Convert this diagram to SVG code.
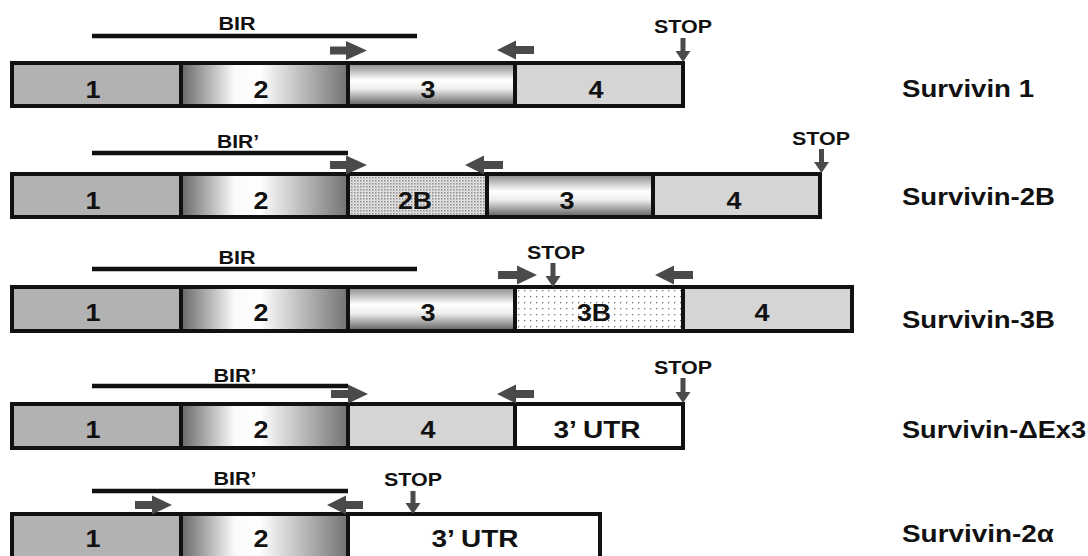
<svg xmlns="http://www.w3.org/2000/svg" width="1088" height="556" viewBox="0 0 1088 556">
<style>
.box{stroke:#111;stroke-width:4}
.e1{fill:#b2b2b2}
.e2{fill:url(#g2)}
.e3{fill:url(#g3)}
.e4{fill:#d5d5d5}
.e2b{fill:url(#p2b)}
.e3b{fill:url(#p3b)}
.utr{fill:#fff}
.t{font-family:"Liberation Sans",Arial,sans-serif;font-weight:bold;fill:#111}
.num{font-size:24px;text-anchor:middle}
.lab{font-size:18px;text-anchor:middle}
.name{font-size:23px}
.bir{stroke:#111;stroke-width:4.5;fill:none}
.pr{fill:#4a4a4a}
</style>
<defs>
<linearGradient id="g2" x1="0" y1="0" x2="1" y2="0">
<stop offset="0" stop-color="#666666"/>
<stop offset="0.32" stop-color="#fafafa"/>
<stop offset="0.47" stop-color="#ffffff"/>
<stop offset="1" stop-color="#727272"/>
</linearGradient>
<linearGradient id="g3" x1="0" y1="0" x2="0" y2="1">
<stop offset="0" stop-color="#858585"/>
<stop offset="0.4" stop-color="#ffffff"/>
<stop offset="0.6" stop-color="#eeeeee"/>
<stop offset="1" stop-color="#5c5c5c"/>
</linearGradient>
<pattern id="p2b" width="3" height="3" patternUnits="userSpaceOnUse">
<rect width="3" height="3" fill="#e8e8e8"/>
<rect x="0" y="0" width="1.5" height="1.5" fill="#888888"/>
<rect x="1.5" y="1.5" width="1" height="1" fill="#a8a8a8"/>
</pattern>
<pattern id="p3b" width="6" height="6" patternUnits="userSpaceOnUse">
<rect width="6" height="6" fill="#ffffff"/>
<rect x="2" y="2" width="1.3" height="1.3" fill="#777777"/>
</pattern>
</defs>

<g id="survivin-1">
<rect class="box e1" x="12" y="63" width="169" height="43"/>
<rect class="box e2" x="181" y="63" width="167" height="43"/>
<rect class="box e3" x="348" y="63" width="167" height="43"/>
<rect class="box e4" x="515" y="63" width="168" height="43"/>
<text class="t num" x="93" y="98" textLength="15" lengthAdjust="spacingAndGlyphs">1</text>
<text class="t num" x="261" y="98" textLength="15" lengthAdjust="spacingAndGlyphs">2</text>
<text class="t num" x="428" y="98" textLength="15" lengthAdjust="spacingAndGlyphs">3</text>
<text class="t num" x="596" y="98" textLength="15" lengthAdjust="spacingAndGlyphs">4</text>
<line class="bir" x1="92" y1="36" x2="417" y2="36"/>
<text class="t lab" x="237" y="30" textLength="37" lengthAdjust="spacingAndGlyphs">BIR</text>
<text class="t lab" x="683" y="33" textLength="58" lengthAdjust="spacingAndGlyphs">STOP</text>
<text class="t name" x="902" y="97" textLength="132" lengthAdjust="spacingAndGlyphs">Survivin 1</text>
</g>

<g id="survivin-2B">
<rect class="box e1" x="12" y="174" width="169" height="43"/>
<rect class="box e2" x="181" y="174" width="167" height="43"/>
<rect class="box e2b" x="348" y="174" width="139" height="43"/>
<rect class="box e3" x="487" y="174" width="166" height="43"/>
<rect class="box e4" x="653" y="174" width="167" height="43"/>
<text class="t num" x="93" y="209" textLength="15" lengthAdjust="spacingAndGlyphs">1</text>
<text class="t num" x="261" y="209" textLength="15" lengthAdjust="spacingAndGlyphs">2</text>
<text class="t num" x="415" y="209" textLength="34" lengthAdjust="spacingAndGlyphs">2B</text>
<text class="t num" x="567" y="209" textLength="15" lengthAdjust="spacingAndGlyphs">3</text>
<text class="t num" x="734" y="209" textLength="15" lengthAdjust="spacingAndGlyphs">4</text>
<line class="bir" x1="92" y1="153" x2="348" y2="153"/>
<text class="t lab" x="238" y="148" textLength="42" lengthAdjust="spacingAndGlyphs">BIR’</text>
<text class="t lab" x="821" y="145" textLength="58" lengthAdjust="spacingAndGlyphs">STOP</text>
<text class="t name" x="902" y="205" textLength="153" lengthAdjust="spacingAndGlyphs">Survivin-2B</text>
</g>

<g id="survivin-3B">
<rect class="box e1" x="12" y="287" width="169" height="44"/>
<rect class="box e2" x="181" y="287" width="167" height="44"/>
<rect class="box e3" x="348" y="287" width="167" height="44"/>
<rect class="box e3b" x="515" y="287" width="168" height="44"/>
<rect class="box e4" x="683" y="287" width="169" height="44"/>
<text class="t num" x="93" y="321" textLength="15" lengthAdjust="spacingAndGlyphs">1</text>
<text class="t num" x="261" y="321" textLength="15" lengthAdjust="spacingAndGlyphs">2</text>
<text class="t num" x="428" y="321" textLength="15" lengthAdjust="spacingAndGlyphs">3</text>
<text class="t num" x="594" y="321" textLength="34" lengthAdjust="spacingAndGlyphs">3B</text>
<text class="t num" x="762" y="321" textLength="15" lengthAdjust="spacingAndGlyphs">4</text>
<line class="bir" x1="92" y1="269" x2="417" y2="269"/>
<text class="t lab" x="237" y="264" textLength="37" lengthAdjust="spacingAndGlyphs">BIR</text>
<text class="t lab" x="556" y="259" textLength="58" lengthAdjust="spacingAndGlyphs">STOP</text>
<text class="t name" x="902" y="328" textLength="153" lengthAdjust="spacingAndGlyphs">Survivin-3B</text>
</g>

<g id="survivin-dEx3">
<rect class="box e1" x="12" y="404" width="169" height="44"/>
<rect class="box e2" x="181" y="404" width="167" height="44"/>
<rect class="box e4" x="348" y="404" width="167" height="44"/>
<rect class="box utr" x="515" y="404" width="168" height="44"/>
<text class="t num" x="93" y="438" textLength="15" lengthAdjust="spacingAndGlyphs">1</text>
<text class="t num" x="261" y="438" textLength="15" lengthAdjust="spacingAndGlyphs">2</text>
<text class="t num" x="428" y="438" textLength="15" lengthAdjust="spacingAndGlyphs">4</text>
<text class="t num" x="597" y="438" textLength="87" lengthAdjust="spacingAndGlyphs" style="font-size:23px">3’ UTR</text>
<line class="bir" x1="92" y1="386" x2="348" y2="386"/>
<text class="t lab" x="235" y="382" textLength="43" lengthAdjust="spacingAndGlyphs">BIR’</text>
<text class="t lab" x="683" y="374" textLength="58" lengthAdjust="spacingAndGlyphs">STOP</text>
<text class="t name" x="902" y="438" textLength="184" lengthAdjust="spacingAndGlyphs">Survivin-ΔEx3</text>
</g>

<g id="survivin-2alpha">
<rect class="box e1" x="12" y="514" width="169" height="44"/>
<rect class="box e2" x="181" y="514" width="167" height="44"/>
<rect class="box utr" x="348" y="514" width="252" height="44"/>
<text class="t num" x="93" y="547" textLength="15" lengthAdjust="spacingAndGlyphs">1</text>
<text class="t num" x="261" y="547" textLength="15" lengthAdjust="spacingAndGlyphs">2</text>
<text class="t num" x="475" y="547" textLength="87" lengthAdjust="spacingAndGlyphs" style="font-size:23px">3’ UTR</text>
<line class="bir" x1="92" y1="491" x2="348" y2="491"/>
<text class="t lab" x="235" y="485" textLength="43" lengthAdjust="spacingAndGlyphs">BIR’</text>
<text class="t lab" x="413" y="486" textLength="58" lengthAdjust="spacingAndGlyphs">STOP</text>
<text class="t name" x="902" y="542" textLength="152" lengthAdjust="spacingAndGlyphs">Survivin-2α</text>
</g>

<g id="connectors">
<path class="pr" d="M330,46.5H346V41L367,50.5L346,60V54.5H330Z"/>
<path class="pr" d="M330,161H346V155.5L367,165L346,174.5V169H330Z"/>
<path class="pr" d="M498,271H517V265.5L537,275L517,284.5V279H498Z"/>
<path class="pr" d="M331,390H348V384.5L368,394L348,403.5V398H331Z"/>
<path class="pr" d="M135,501H152V495.5L172,505L152,514.5V509H135Z"/>
<path class="pr" d="M534,46H516V40.5L497,50L516,59.5V54H534Z"/>
<path class="pr" d="M503,161H484V155.5L465,165L484,174.5V169H503Z"/>
<path class="pr" d="M693,271H674V265.5L655,275L674,284.5V279H693Z"/>
<path class="pr" d="M534,390H516V384.5L497,394L516,403.5V398H534Z"/>
<path class="pr" d="M363,501H346V495.5L327,505L346,514.5V509H363Z"/>
<path class="pr" d="M680.5,38H685.5V51H690.5L683,62L675.5,51H680.5Z"/>
<path class="pr" d="M819,149H824V162H829L821.5,173L814,162H819Z"/>
<path class="pr" d="M550.5,263H555.5V276H560.5L553,287L545.5,276H550.5Z"/>
<path class="pr" d="M680.5,378H685.5V392H690.5L683,403L675.5,392H680.5Z"/>
<path class="pr" d="M410.5,491H415.5V503H420.5L413,514L405.5,503H410.5Z"/>
</g>
</svg>
